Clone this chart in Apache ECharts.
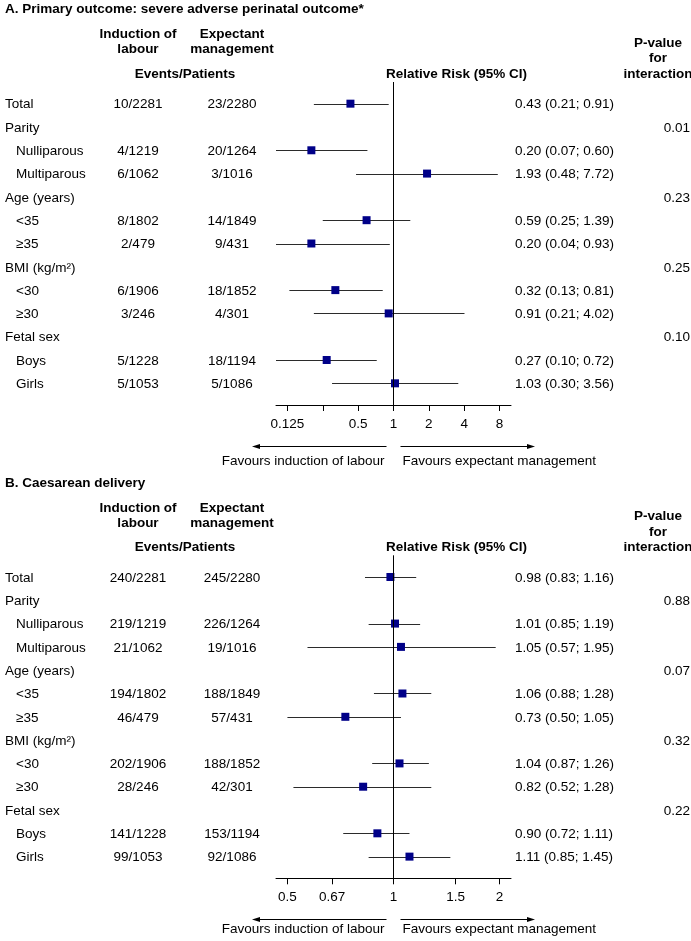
<!DOCTYPE html>
<html>
<head>
<meta charset="utf-8">
<script src="https://cdn.jsdelivr.net/npm/echarts@6/dist/echarts.min.js"></script>
<style>
html, body { margin: 0; padding: 0; background: #fff; }
#main { width: 691px; height: 941px; }
</style>
</head>
<body>
<div id="main"></div>
<script>
// rows shared by both panels
var rowLabels = ['Total', 'Parity', 'Nulliparous', 'Multiparous', 'Age (years)', '<35', '\u226535',
  'BMI (kg/m\u00b2)', '<30', '\u226530', 'Fetal sex', 'Boys', 'Girls'];
var rowIndent = [0, 0, 1, 1, 0, 1, 1, 0, 1, 1, 0, 1, 1];

// A. severe adverse perinatal outcome
var aInduction = ['10/2281', '', '4/1219', '6/1062', '', '8/1802', '2/479', '', '6/1906', '3/246', '', '5/1228', '5/1053'];
var aExpectant = ['23/2280', '', '20/1264', '3/1016', '', '14/1849', '9/431', '', '18/1852', '4/301', '', '18/1194', '5/1086'];
var aRR = [0.43, null, 0.20, 1.93, null, 0.59, 0.20, null, 0.32, 0.91, null, 0.27, 1.03];
var aLow = [0.21, null, 0.07, 0.48, null, 0.25, 0.04, null, 0.13, 0.21, null, 0.10, 0.30];
var aHigh = [0.91, null, 0.60, 7.72, null, 1.39, 0.93, null, 0.81, 4.02, null, 0.72, 3.56];
var aP = ['', '0.01', '', '', '0.23', '', '', '0.25', '', '', '0.10', '', ''];
var aTicks = [0.125, 0.25, 0.5, 1, 2, 4, 8];
var aTickLabels = [0.125, 0.5, 1, 2, 4, 8];

// B. caesarean delivery
var bInduction = ['240/2281', '', '219/1219', '21/1062', '', '194/1802', '46/479', '', '202/1906', '28/246', '', '141/1228', '99/1053'];
var bExpectant = ['245/2280', '', '226/1264', '19/1016', '', '188/1849', '57/431', '', '188/1852', '42/301', '', '153/1194', '92/1086'];
var bRR = [0.98, null, 1.01, 1.05, null, 1.06, 0.73, null, 1.04, 0.82, null, 0.90, 1.11];
var bLow = [0.83, null, 0.85, 0.57, null, 0.88, 0.50, null, 0.87, 0.52, null, 0.72, 0.85];
var bHigh = [1.16, null, 1.19, 1.95, null, 1.28, 1.05, null, 1.26, 1.28, null, 1.11, 1.45];
var bP = ['', '0.88', '', '', '0.07', '', '', '0.32', '', '', '0.22', '', ''];
var bTicks = [0.5, 0.67, 1, 1.5, 2];
var bTickLabels = [0.5, 0.67, 1, 1.5, 2];

var FONT = '"Liberation Sans", Arial, Helvetica, sans-serif';
var FS = 13.5;
var chart = echarts.init(document.getElementById('main'), null, {renderer: 'canvas'});

function xAxisDef(gi, min, max, ticks, labels) {
  return {
    type: 'log', logBase: 2, gridIndex: gi, min: min, max: max,
    axisLine: {show: true, onZero: false, lineStyle: {color: '#000', width: 1}},
    axisTick: {show: true, inside: false, length: 6, customValues: ticks, lineStyle: {color: '#000', width: 1}},
    axisLabel: {
      customValues: labels, margin: 12, fontSize: FS, color: '#000', fontFamily: FONT,
      formatter: function (v) { return String(+(+v).toPrecision(3)); }
    },
    splitLine: {show: false},
    minorTick: {show: false}
  };
}

function yAxisDef(gi) {
  return {type: 'value', gridIndex: gi, inverse: true, min: -0.93, max: 12.93, show: false};
}

function panelSeries(gi, rr, lo, hi, xmin, xmax) {
  var ci = [], pts = [];
  for (var i = 0; i < rr.length; i++) {
    if (rr[i] == null) continue;
    ci.push([lo[i], hi[i], i]);
    pts.push([rr[i], i]);
  }
  return [{
    type: 'custom', xAxisIndex: gi, yAxisIndex: gi, silent: true, z: 2,
    encode: {x: [0, 1], y: 2},
    data: ci,
    renderItem: function (params, api) {
      var p1 = api.coord([Math.max(api.value(0), xmin), api.value(2)]);
      var p2 = api.coord([Math.min(api.value(1), xmax), api.value(2)]);
      var y = Math.round(p1[1]) + 0.5; // crisp 1px whisker
      return {
        type: 'line',
        shape: {x1: p1[0], y1: y, x2: p2[0], y2: y},
        style: {stroke: '#2b2b2b', lineWidth: 1}
      };
    }
  }, {
    type: 'scatter', xAxisIndex: gi, yAxisIndex: gi, silent: true, z: 4,
    symbol: 'rect', symbolSize: 8,
    itemStyle: {color: '#000088', opacity: 1},
    data: pts,
    markLine: {
      silent: true, symbol: 'none', animation: false,
      label: {show: false},
      lineStyle: {color: '#000', width: 1, type: 'solid'},
      data: [{xAxis: 1}]
    }
  }];
}

chart.setOption({
  animation: false,
  grid: [
    {left: 276, width: 235, top: 82, height: 323},
    {left: 276, width: 235, top: 555.3, height: 323}
  ],
  xAxis: [
    xAxisDef(0, 0.1, 10, aTicks, aTickLabels),
    xAxisDef(1, 0.464, 2.155, bTicks, bTickLabels)
  ],
  yAxis: [yAxisDef(0), yAxisDef(1)],
  series: panelSeries(0, aRR, aLow, aHigh, 0.1, 10).concat(panelSeries(1, bRR, bLow, bHigh, 0.464, 2.155))
});

function txt(x, y, s, opts) {
  opts = opts || {};
  return {
    type: 'text', x: x, y: y + 1, silent: true,
    style: {
      text: s, fill: '#000', fontFamily: FONT, fontSize: opts.size || FS,
      fontWeight: opts.bold ? 'bold' : 'normal',
      align: opts.align || 'left', verticalAlign: 'middle'
    }
  };
}

function arrow(x1, x2, y) {
  var dir = x2 > x1 ? 1 : -1;
  y = Math.round(y) + 0.5;
  return [{
    type: 'line', silent: true,
    shape: {x1: x1, y1: y, x2: x2 - dir * 6, y2: y},
    style: {stroke: '#000', lineWidth: 1}
  }, {
    type: 'polygon', silent: true,
    shape: {points: [[x2, y], [x2 - dir * 8, y - 2.5], [x2 - dir * 8, y + 2.5]]},
    style: {fill: '#000'}
  }];
}

function panelTexts(gi, title, induction, expectant, rr, lo, hi, pv, favourDy) {
  var out = [];
  var rowY = function (i) { return chart.convertToPixel({yAxisIndex: gi}, i); };
  var y0 = rowY(0);
  var axisY = rowY(12.93);
  out.push(txt(5, y0 - 95, title, {bold: true}));
  out.push(txt(138, y0 - 70, 'Induction of', {bold: true, align: 'center'}));
  out.push(txt(138, y0 - 55, 'labour', {bold: true, align: 'center'}));
  out.push(txt(232, y0 - 70, 'Expectant', {bold: true, align: 'center'}));
  out.push(txt(232, y0 - 55, 'management', {bold: true, align: 'center'}));
  out.push(txt(185, y0 - 30.5, 'Events/Patients', {bold: true, align: 'center'}));
  out.push(txt(456.5, y0 - 30.5, 'Relative Risk (95% CI)', {bold: true, align: 'center'}));
  out.push(txt(658, y0 - 61.5, 'P-value', {bold: true, align: 'center'}));
  out.push(txt(658, y0 - 46, 'for', {bold: true, align: 'center'}));
  out.push(txt(658, y0 - 30.5, 'interaction', {bold: true, align: 'center'}));
  for (var i = 0; i < rowLabels.length; i++) {
    var y = rowY(i);
    out.push(txt(rowIndent[i] ? 16 : 5, y, rowLabels[i]));
    if (induction[i]) out.push(txt(138, y, induction[i], {align: 'center'}));
    if (expectant[i]) out.push(txt(232, y, expectant[i], {align: 'center'}));
    if (rr[i] != null) {
      out.push(txt(515, y, rr[i].toFixed(2) + ' (' + lo[i].toFixed(2) + '; ' + hi[i].toFixed(2) + ')'));
    }
    if (pv[i]) out.push(txt(690, y, pv[i], {align: 'right'}));
  }
  out = out.concat(arrow(386.5, 252, axisY + 41));
  out = out.concat(arrow(400.5, 535, axisY + 41));
  out.push(txt(384.5, axisY + favourDy, 'Favours induction of labour', {align: 'right'}));
  out.push(txt(402.5, axisY + favourDy, 'Favours expectant management'));
  return out;
}

chart.setOption({
  graphic: panelTexts(0, 'A. Primary outcome: severe adverse perinatal outcome*', aInduction, aExpectant, aRR, aLow, aHigh, aP, 55)
    .concat(panelTexts(1, 'B. Caesarean delivery', bInduction, bExpectant, bRR, bLow, bHigh, bP, 50))
});
</script>
</body>
</html>
